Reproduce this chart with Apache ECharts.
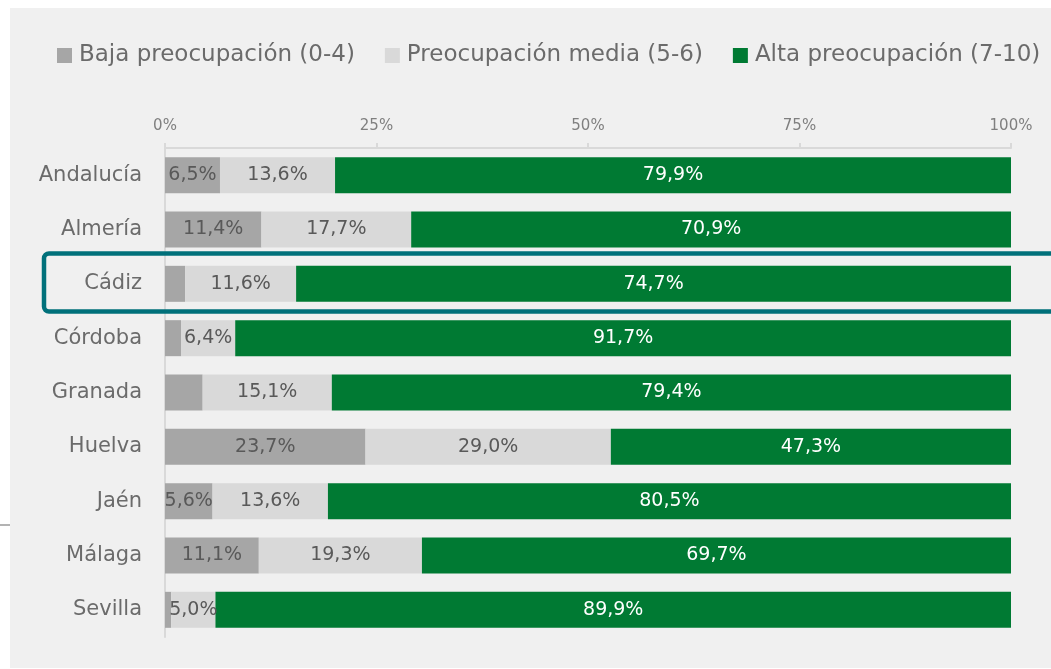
<!DOCTYPE html>
<html>
<head>
<meta charset="utf-8">
<script src="https://cdn.jsdelivr.net/npm/echarts@6/dist/echarts.min.js"></script>
<style>
  html, body { margin: 0; padding: 0; background: #ffffff; }
  #panel { position: absolute; left: 10px; top: 8px; width: 1041px; height: 660px; background: #f0f0f0; }
  #chart { position: absolute; left: 0; top: 0; width: 1051px; height: 669px; }
</style>
</head>
<body>
<div id="panel"></div>
<div id="chart"></div>
<script>
// provincias
var categories = ["Andalucía", "Almería", "Cádiz", "Córdoba", "Granada", "Huelva", "Jaén", "Málaga", "Sevilla"];
// valores por nivel de preocupación (%)
var baja = [6.5, 11.4, 2.1, 1.9, 4.4, 23.7, 5.6, 11.1, 0.7];
var media = [13.6, 17.7, 11.6, 6.4, 15.1, 29.0, 13.6, 19.3, 5.0];
var alta = [79.9, 70.9, 74.7, 91.7, 79.4, 47.3, 80.5, 69.7, 89.9];
var seriesNames = ["Baja preocupación (0-4)", "Preocupación media (5-6)", "Alta preocupación (7-10)"];
var ticks = [0, 25, 50, 75, 100];

var font = "DejaVu Sans";
var totals = categories.map(function (c, i) { return baja[i] + media[i] + alta[i]; });

// apilado al 100%: cada barra se normaliza sobre su total
function share(arr) {
  return arr.map(function (v, i) { return { value: v / totals[i] * 100, raw: v }; });
}
function labelText(p) {
  var v = p.data.raw;
  if (v < 5) return "";
  return v.toFixed(1).replace(".", ",") + "%";
}

function makeSeries(name, arr, color, textColor) {
  return {
    name: name,
    type: "bar",
    stack: "total",
    barWidth: 36,
    data: share(arr),
    itemStyle: { color: color },
    label: {
      show: true,
      position: "inside",
      formatter: labelText,
      color: textColor,
      fontFamily: font,
      fontSize: 19
    },
    emphasis: { disabled: true }
  };
}

var chart = echarts.init(document.getElementById("chart"));
chart.setOption({
  animation: false,
  textStyle: { fontFamily: font },
  legend: {
    left: 52,
    top: 39,
    icon: "rect",
    itemWidth: 15,
    itemHeight: 15,
    itemGap: 30,
    textStyle: { fontFamily: font, fontSize: 23, color: "#6b6b6b", padding: [0, 0, 0, 2] },
    data: seriesNames
  },
  grid: { left: 165, right: 40, top: 148, bottom: 32 },
  xAxis: {
    type: "value",
    position: "top",
    min: ticks[0],
    max: ticks[ticks.length - 1],
    interval: 25,
    axisLine: { show: true, lineStyle: { color: "#d9d9d9", width: 2 } },
    axisTick: { show: true, length: 5, lineStyle: { color: "#d9d9d9", width: 2 } },
    splitLine: { show: false },
    axisLabel: {
      formatter: "{value}%",
      color: "#7f7f7f",
      fontFamily: font,
      fontSize: 15,
      margin: 14
    }
  },
  yAxis: {
    type: "category",
    inverse: true,
    data: categories,
    axisLine: { show: true, lineStyle: { color: "#d9d9d9", width: 2 } },
    axisTick: { show: false },
    axisLabel: { color: "#6b6b6b", fontFamily: font, fontSize: 21, margin: 23 }
  },
  series: [
    makeSeries(seriesNames[0], baja, "#a6a6a6", "#595959"),
    makeSeries(seriesNames[1], media, "#d9d9d9", "#595959"),
    makeSeries(seriesNames[2], alta, "#007a33", "#ffffff")
  ],
  graphic: [
    {
      type: "rect",
      shape: { x: 44, y: 253.5, width: 1100, height: 58, r: 5 },
      style: { fill: null, stroke: "#00707a", lineWidth: 4.5 },
      z: 100
    },
    {
      type: "line",
      shape: { x1: 0, y1: 525, x2: 10, y2: 525 },
      style: { stroke: "#9a9a9a", lineWidth: 1.5 }
    }
  ]
});
</script>
</body>
</html>
